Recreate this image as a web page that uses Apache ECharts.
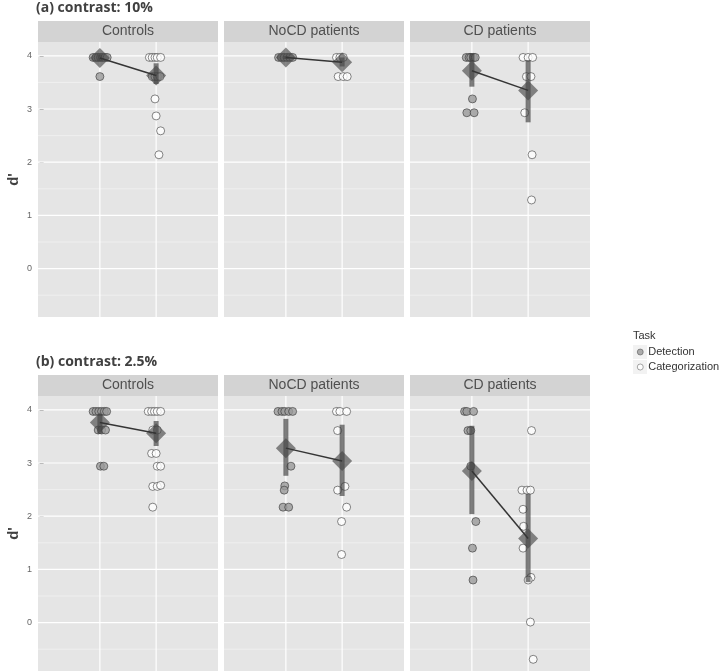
<!DOCTYPE html>
<html><head><meta charset="utf-8">
<script src="https://cdn.jsdelivr.net/npm/echarts@6/dist/echarts.min.js"></script>
<style>html,body{margin:0;padding:0;background:#fff}#c{width:721px;height:671px}</style>
</head><body><div id="c"></div>
<script>
// ---------- data ----------
const groups = ["Controls", "NoCD patients", "CD patients"];
const sectionTitles = ["(a) contrast: 10%", "(b) contrast: 2.5%"];
const tasks = ["Detection", "Categorization"];
const yTicks = [0, 1, 2, 3, 4];
const yMinor = [-0.5, 0.5, 1.5, 2.5, 3.5];
const xTaskPos = [1, 2];

// individual d' values [jittered x, d']
const a_ctrl_det = [[0.88,3.97],[0.93,3.97],[0.97,3.97],[1.01,3.97],[1.05,3.97],[1.09,3.97],[1.13,3.97],[1.0,3.61]];
const a_ctrl_cat = [[1.88,3.97],[1.93,3.97],[1.98,3.97],[2.02,3.97],[2.08,3.97],[1.93,3.61],[1.98,3.61],[2.02,3.61],[2.07,3.61],[1.98,3.19],[2.0,2.87],[2.08,2.59],[2.05,2.14]];
const a_nocd_det = [[0.87,3.97],[0.92,3.97],[0.97,3.97],[1.02,3.97],[1.07,3.97],[1.12,3.97]];
const a_nocd_cat = [[1.9,3.97],[1.96,3.97],[2.02,3.97],[1.93,3.61],[2.02,3.61],[2.09,3.61]];
const a_cd_det = [[0.9,3.97],[0.95,3.97],[0.98,3.97],[1.03,3.97],[1.06,3.97],[1.01,3.19],[0.91,2.93],[1.04,2.93]];
const a_cd_cat = [[1.91,3.97],[2.0,3.97],[2.08,3.97],[1.97,3.61],[2.05,3.61],[1.94,2.93],[2.07,2.14],[2.06,1.29]];

const b_ctrl_det = [[0.88,3.97],[0.93,3.97],[0.98,3.97],[1.03,3.97],[1.08,3.97],[1.12,3.97],[0.97,3.62],[1.03,3.62],[1.1,3.62],[1.01,2.94],[1.07,2.94]];
const b_ctrl_cat = [[1.86,3.97],[1.92,3.97],[1.97,3.97],[2.02,3.97],[2.08,3.97],[1.94,3.62],[2.02,3.62],[1.92,3.18],[2.0,3.18],[2.02,2.94],[2.08,2.94],[1.94,2.56],[2.02,2.56],[2.08,2.58],[1.94,2.17]];
const b_nocd_det = [[0.86,3.97],[0.93,3.97],[0.98,3.97],[1.05,3.97],[1.12,3.97],[1.09,2.94],[0.98,2.57],[0.97,2.49],[0.95,2.17],[1.05,2.17]];
const b_nocd_cat = [[1.9,3.97],[1.96,3.97],[2.08,3.97],[1.92,3.61],[2.05,2.56],[1.92,2.49],[2.08,2.17],[1.99,1.90],[1.99,1.28]];
const b_cd_det = [[0.87,3.97],[0.91,3.97],[1.03,3.97],[0.93,3.61],[0.98,3.61],[0.98,2.94],[1.07,1.90],[1.01,1.40],[1.02,0.80]];
const b_cd_cat = [[2.06,3.61],[1.89,2.49],[1.98,2.49],[2.04,2.49],[1.91,2.13],[1.92,1.81],[1.91,1.40],[2.05,0.85],[2.0,0.80],[2.04,0.01],[2.09,-0.69]];

// group means and interval ends (Controls, NoCD, CD)
const a_mean_det = [3.96, 3.97, 3.72];
const a_mean_cat = [3.63, 3.88, 3.35];
const a_lo_det = [3.90, 3.94, 3.42];
const a_hi_det = [4.02, 4.00, 4.05];
const a_lo_cat = [3.47, 3.80, 2.75];
const a_hi_cat = [3.86, 3.97, 3.92];

const b_mean_det = [3.76, 3.28, 2.85];
const b_mean_cat = [3.56, 3.04, 1.58];
const b_lo_det = [3.55, 2.76, 2.04];
const b_hi_det = [3.92, 3.83, 3.70];
const b_lo_cat = [3.32, 2.38, 0.76];
const b_hi_cat = [3.79, 3.72, 2.42];

// ---------- assemble ----------
const detPts = [a_ctrl_det, a_nocd_det, a_cd_det, b_ctrl_det, b_nocd_det, b_cd_det];
const catPts = [a_ctrl_cat, a_nocd_cat, a_cd_cat, b_ctrl_cat, b_nocd_cat, b_cd_cat];
const meanDet = [a_mean_det, b_mean_det], meanCat = [a_mean_cat, b_mean_cat];
const loDet = [a_lo_det, b_lo_det], hiDet = [a_hi_det, b_hi_det];
const loCat = [a_lo_cat, b_lo_cat], hiCat = [a_hi_cat, b_hi_cat];

const panelLeft = [38, 224, 410];
const panelTop = [42, 396];
const PW = 180, PH = 275, STRIP = 21;
const Y_MIN = -0.91, Y_MAX = 4.26;

const grids = [], xAxes = [], yAxes = [], series = [], graphics = [];
const FONT = '"Liberation Sans", Arial, sans-serif';

for (let s = 0; s < 2; s++) {
  graphics.push({type:'text', left: 36, top: panelTop[s] - STRIP - 20,
    style:{text: sectionTitles[s], font:'bold 14px "Open Sans", sans-serif', fill:'#404040'}});
  for (let g = 0; g < 3; g++) {
    const k = s * 3 + g;
    grids.push({left: panelLeft[g], top: panelTop[s], width: PW, height: PH,
      show: true, backgroundColor: '#e5e5e5', borderWidth: 0});
    graphics.push({type:'rect', shape:{x: panelLeft[g], y: panelTop[s] - STRIP, width: PW, height: STRIP},
      style:{fill:'#d3d3d3'}});
    graphics.push({type:'text', x: panelLeft[g] + PW/2, y: panelTop[s] - STRIP/2,
      style:{text: groups[g], font:'14px ' + FONT, fill:'#505050', align:'center', verticalAlign:'middle'}});
    xAxes.push({gridIndex: k, type:'value', min: -0.1, max: 3.1,
      axisLine:{show:false}, axisTick:{show:false}, axisLabel:{show:false}, splitLine:{show:false}});
    yAxes.push({gridIndex: k, type:'value', min: Y_MIN, max: Y_MAX,
      name: g === 0 ? "d'" : '', nameLocation:'middle', nameGap: 17, nameRotate: 90,
      nameTextStyle:{fontFamily: FONT, fontWeight:'bold', fontSize: 15, color:'#404040'},
      axisLine:{show:false},
      axisTick:{show: g === 0, length: 4, customValues: yTicks, lineStyle:{color:'#777', width:1}},
      axisLabel:{show: g === 0, customValues: yTicks, margin: 6, fontSize: 9, fontFamily: FONT, color:'#666'},
      splitLine:{show:false}});

    // grid lines
    series.push({type:'custom', xAxisIndex:k, yAxisIndex:k, silent:true, z:1,
      data: yMinor.map(v => [0, v]),
      renderItem: (p, api) => { const cs = p.coordSys; const y = api.coord([0, api.value(1)])[1];
        return {type:'line', shape:{x1:cs.x, y1:y, x2:cs.x+cs.width, y2:y}, style:{stroke:'#f2f2f2', lineWidth:0.8}}; }});
    series.push({type:'custom', xAxisIndex:k, yAxisIndex:k, silent:true, z:1,
      data: yTicks.map(v => [0, v]),
      renderItem: (p, api) => { const cs = p.coordSys; const y = api.coord([0, api.value(1)])[1];
        return {type:'line', shape:{x1:cs.x, y1:y, x2:cs.x+cs.width, y2:y}, style:{stroke:'#ffffff', lineWidth:1.2}}; }});
    series.push({type:'custom', xAxisIndex:k, yAxisIndex:k, silent:true, z:1,
      data: xTaskPos.map(v => [v, 0]),
      renderItem: (p, api) => { const cs = p.coordSys; const x = api.coord([api.value(0), 0])[0];
        return {type:'line', shape:{x1:x, y1:cs.y, x2:x, y2:cs.y+cs.height}, style:{stroke:'#ffffff', lineWidth:1.2}}; }});

    // points
    series.push({name:'Detection', type:'scatter', xAxisIndex:k, yAxisIndex:k, z:2,
      symbol:'circle', symbolSize:8, data: detPts[k],
      itemStyle:{color:'#9a9a9a', borderColor:'#2a2a2a', borderWidth:0.7}});
    series.push({name:'Categorization', type:'scatter', xAxisIndex:k, yAxisIndex:k, z:2,
      symbol:'circle', symbolSize:8, data: catPts[k],
      itemStyle:{color:'#ffffff', borderColor:'#2a2a2a', borderWidth:0.7}});

    // interval bars
    series.push({type:'custom', xAxisIndex:k, yAxisIndex:k, silent:true, z:3,
      data: [[xTaskPos[0], loDet[s][g], hiDet[s][g]], [xTaskPos[1], loCat[s][g], hiCat[s][g]]],
      renderItem: (p, api) => { const a = api.coord([api.value(0), api.value(1)]); const b = api.coord([api.value(0), api.value(2)]);
        return {type:'line', shape:{x1:a[0], y1:a[1], x2:b[0], y2:b[1]}, style:{stroke:'rgba(60,60,60,0.65)', lineWidth:5, lineCap:'butt'}}; }});
    // means
    const md = [[xTaskPos[0], meanDet[s][g]], [xTaskPos[1], meanCat[s][g]]];
    series.push({type:'scatter', xAxisIndex:k, yAxisIndex:k, z:4, silent:true,
      symbol:'diamond', symbolSize:20, data: md,
      itemStyle:{color:'rgba(70,70,70,0.8)'}});
    series.push({type:'line', xAxisIndex:k, yAxisIndex:k, z:5, silent:true,
      symbol:'none', data: md, lineStyle:{color:'#353535', width:1.5}});
  }
}

// legend
graphics.push({type:'text', left: 633, top: 330, style:{text:'Task', font:'11px ' + FONT, fill:'#333'}});
graphics.push({type:'rect', shape:{x:633, y:345, width:14, height:14}, style:{fill:'#f2f2f2'}});
graphics.push({type:'rect', shape:{x:633, y:360, width:14, height:14}, style:{fill:'#f2f2f2'}});

const chart = echarts.init(document.getElementById('c'), null, {renderer:'canvas'});
chart.setOption({
  animation: false,
  backgroundColor: '#ffffff',
  grid: grids, xAxis: xAxes, yAxis: yAxes, series: series,
  graphic: graphics,
  legend: {data: tasks, orient:'vertical', left: 632, top: 339.5, padding: 5, itemWidth: 6, itemHeight: 6, itemGap: 0,
    selectedMode:false, icon:'circle',
    itemStyle:{borderWidth: 0.5},
    textStyle:{fontSize: 11, lineHeight: 15, color:'#333', fontFamily: FONT}}
});
</script>
</body></html>
